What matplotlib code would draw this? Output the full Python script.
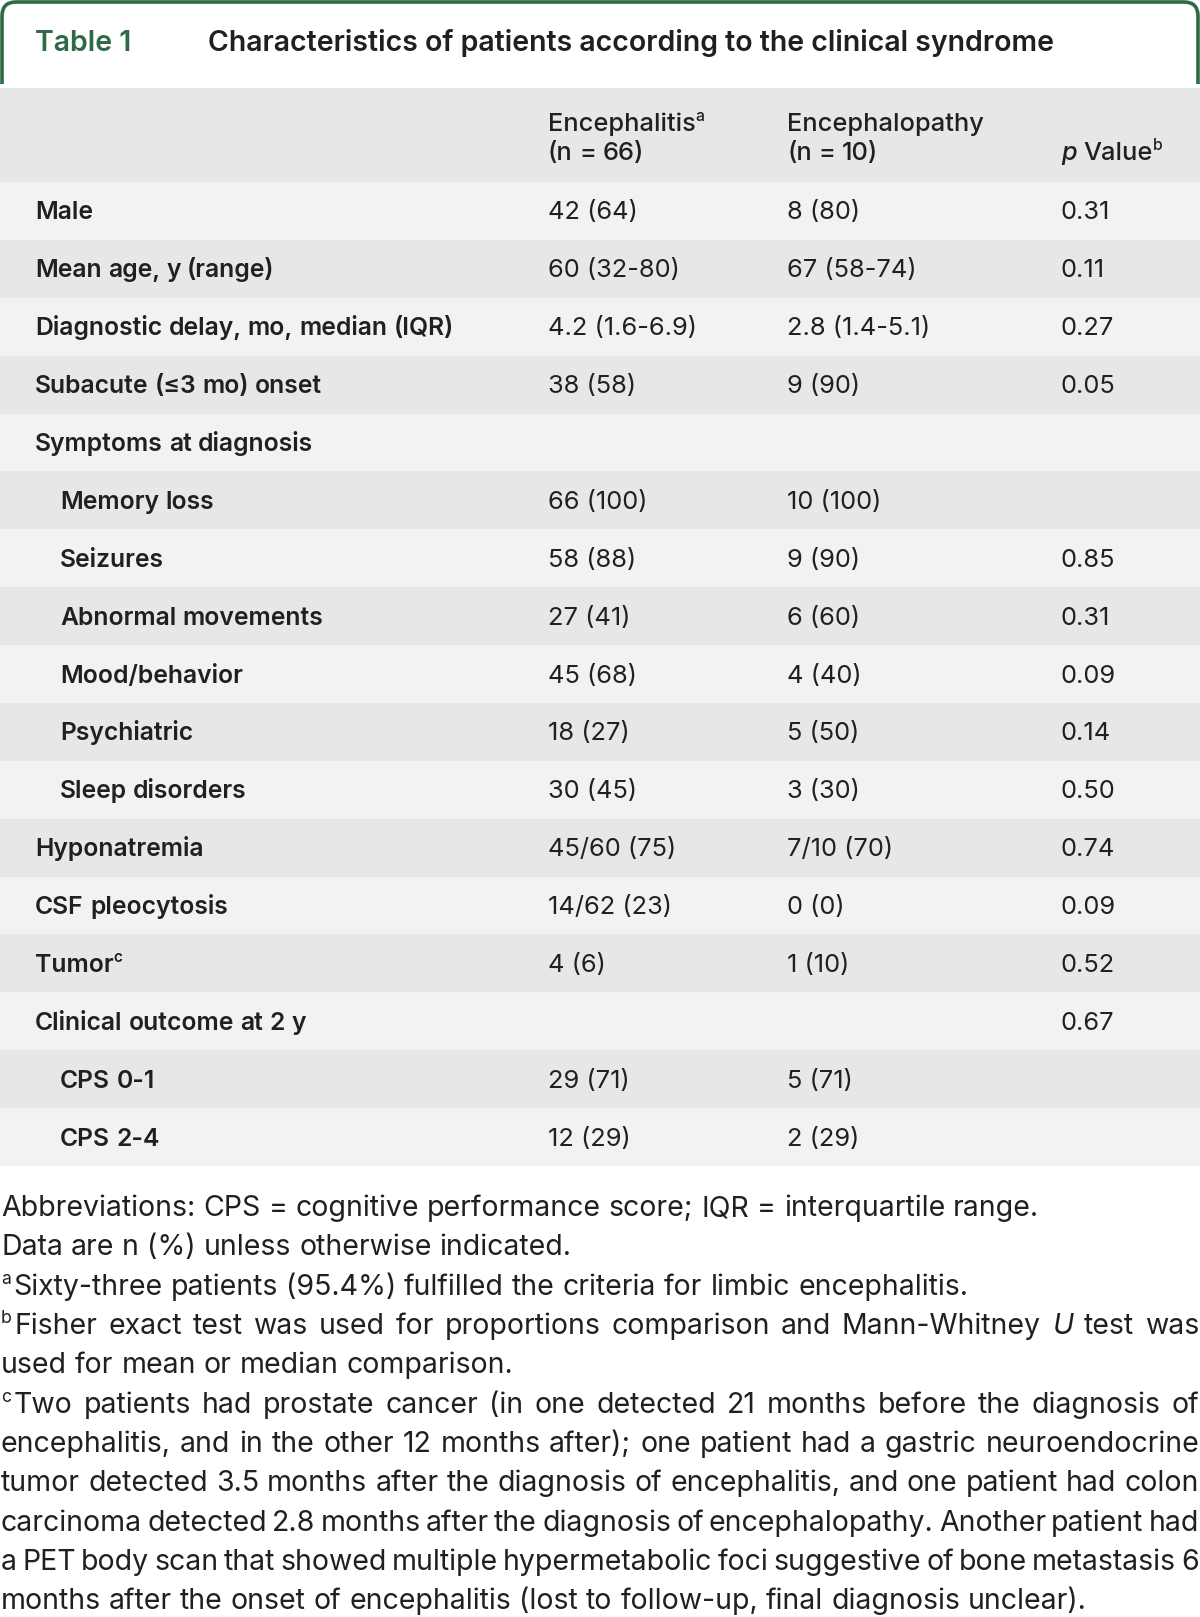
import matplotlib
matplotlib.use('Agg')
import matplotlib.pyplot as plt
from matplotlib import font_manager
from matplotlib.font_manager import FontProperties
from matplotlib.patches import Rectangle, PathPatch
from matplotlib.path import Path

# table content
title_tag = 'Table 1'
title = 'Characteristics of patients according to the clinical syndrome'
col_heads = [['Encephalitis^a', '(n = 66)'], ['Encephalopathy', '(n = 10)'], ['*p* Value^b']]

row_labels = ['Male', 'Mean age, y (range)', 'Diagnostic delay, mo, median (IQR)',
              'Subacute (≤3 mo) onset', 'Symptoms at diagnosis', 'Memory loss', 'Seizures',
              'Abnormal movements', 'Mood/behavior', 'Psychiatric', 'Sleep disorders',
              'Hyponatremia', 'CSF pleocytosis', 'Tumor^c', 'Clinical outcome at 2 y',
              'CPS 0-1', 'CPS 2-4']
sub_rows = [False, False, False, False, False, True, True, True, True, True, True,
            False, False, False, False, True, True]
encephalitis = ['42 (64)', '60 (32-80)', '4.2 (1.6-6.9)', '38 (58)', '', '66 (100)', '58 (88)',
                '27 (41)', '45 (68)', '18 (27)', '30 (45)', '45/60 (75)', '14/62 (23)', '4 (6)',
                '', '29 (71)', '12 (29)']
encephalopathy = ['8 (80)', '67 (58-74)', '2.8 (1.4-5.1)', '9 (90)', '', '10 (100)', '9 (90)',
                  '6 (60)', '4 (40)', '5 (50)', '3 (30)', '7/10 (70)', '0 (0)', '1 (10)',
                  '', '5 (71)', '2 (29)']
p_values = ['0.31', '0.11', '0.27', '0.05', '', '', '0.85', '0.31', '0.09', '0.14', '0.50',
            '0.74', '0.09', '0.52', '0.67', '', '']

# footnote lines, flag = justified
footnotes = [
    ('Abbreviations: CPS = cognitive performance score; IQR = interquartile range.', False),
    ('Data are n (%) unless otherwise indicated.', False),
    ('^aSixty-three patients (95.4%) fulfilled the criteria for limbic encephalitis.', False),
    ('^bFisher exact test was used for proportions comparison and Mann-Whitney *U* test was', True),
    ('used for mean or median comparison.', False),
    ('^cTwo patients had prostate cancer (in one detected 21 months before the diagnosis of', True),
    ('encephalitis, and in the other 12 months after); one patient had a gastric neuroendocrine', True),
    ('tumor detected 3.5 months after the diagnosis of encephalitis, and one patient had colon', True),
    ('carcinoma detected 2.8 months after the diagnosis of encephalopathy. Another patient had', True),
    ('a PET body scan that showed multiple hypermetabolic foci suggestive of bone metastasis 6', True),
    ('months after the onset of encephalitis (lost to follow-up, final diagnosis unclear).', False),
]

GREEN = '#2f6a47'
INK = '#231f20'
LIGHT = '#f2f2f2'
DARK = '#e6e7e6'

available = {f.name for f in font_manager.fontManager.ttflist}
body = 'Inter' if 'Inter' in available else 'DejaVu Sans'

fig = plt.figure(figsize=(12, 16.17), dpi=100)
ax = fig.add_axes([0, 0, 1, 1])
ax.set_xlim(0, 1200)
ax.set_ylim(1617, 0)
ax.axis('off')
renderer = fig.canvas.get_renderer()


def fp(family, size, weight='normal', style='normal'):
    return FontProperties(family=[family, 'DejaVu Sans'], size=size, weight=weight, style=style)


def width(s, prop):
    t = ax.text(0, 0, s, fontproperties=prop)
    w = t.get_window_extent(renderer).width
    t.remove()
    return w


def parse(word):
    # returns list of (text, kind)
    if word.startswith('*') and word.endswith('*') and len(word) > 2:
        return [(word[1:-1], 'i')]
    segs, buf, i = [], '', 0
    while i < len(word):
        if word[i] == '^' and i + 1 < len(word):
            if buf:
                segs.append((buf, 'n'))
                buf = ''
            segs.append((word[i + 1], 's'))
            i += 2
        else:
            buf += word[i]
            i += 1
    if buf:
        segs.append((buf, 'n'))
    return segs


def draw_word(x, y, word, family, size, weight, draw=True):
    x0 = x
    for text, kind in parse(word):
        if kind == 's':
            p = fp(family, size * 0.62, weight)
            yy = y - size * 0.55
        elif kind == 'i':
            p = fp(family, size, weight, 'italic')
            yy = y
        else:
            p = fp(family, size, weight)
            yy = y
        if draw:
            ax.text(x, yy, text, fontproperties=p, color=INK, va='baseline', ha='left')
        x += width(text, p) + (2.5 if kind == 's' else 0)
    return x - x0


def draw_line(x, y, line, family, size, weight='normal', justify_to=None):
    words = line.split(' ')
    ws = [draw_word(0, 0, w, family, size, weight, draw=False) for w in words]
    p = fp(family, size, weight)
    gap = width('n n', p) - width('nn', p)
    if justify_to is not None and len(words) > 1:
        gap = (justify_to - x - sum(ws)) / (len(words) - 1)
    for w, wd in zip(words, ws):
        draw_word(x, y, w, family, size, weight)
        x += wd + gap


# title tab
verts = [(2, 84), (2, 16), (2, 2), (16, 2), (1184, 2), (1198, 2), (1198, 16), (1198, 84)]
codes = [Path.MOVETO, Path.LINETO, Path.CURVE3, Path.CURVE3, Path.LINETO,
         Path.CURVE3, Path.CURVE3, Path.LINETO]
ax.add_patch(PathPatch(Path(verts, codes), fill=False, edgecolor=GREEN, lw=2.6))
ax.text(35, 51, title_tag, fontproperties=fp(body, 20.5, 'semibold'), color=GREEN, va='baseline')
ax.text(208, 51, title, fontproperties=fp(body, 20.5, 'semibold'), color=INK, va='baseline')

# header block
header_top, header_bot = 88, 182
ax.add_patch(Rectangle((0, header_top), 1200, header_bot - header_top, color=DARK, lw=0))
col_x = [548, 787, 1061]
LS = 17.8
VS = 18.3
for cx, lines in zip(col_x, col_heads):
    for k, ln in enumerate(lines):
        yb = 160 - 29 * (len(lines) - 1 - k)
        draw_line(cx, yb, ln, body, VS, 'medium')

# rows
row_h = (1166 - header_bot) / len(row_labels)
for i, lab in enumerate(row_labels):
    top = header_bot + i * row_h
    ax.add_patch(Rectangle((0, top), 1200, row_h, color=LIGHT if i % 2 == 0 else DARK, lw=0))
    yb = top + row_h / 2 + 8.5
    draw_line(60 if sub_rows[i] else 35, yb, lab, body, LS, 'semibold')
    for cx, val in zip(col_x, (encephalitis[i], encephalopathy[i], p_values[i])):
        if val:
            ax.text(cx, yb, val, fontproperties=fp(body, VS), color=INK, va='baseline')

# footnotes
foot_y = [1216, 1255, 1295, 1334, 1373, 1413, 1452, 1491, 1531, 1570, 1609]
for (line, just), yb in zip(footnotes, foot_y):
    draw_line(1, yb, line, body, 20.5, justify_to=1199 if just else None)

fig.savefig('out.png', dpi=100, facecolor='white')
